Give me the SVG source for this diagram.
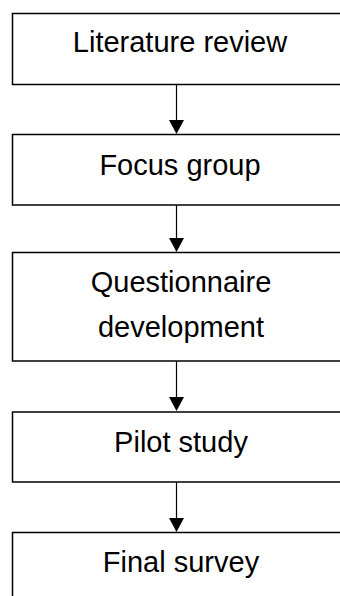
<svg xmlns="http://www.w3.org/2000/svg" width="340" height="596" viewBox="0 0 340 596">
<style>
.box{fill:#fff;stroke:#000;stroke-width:1.5}
.lbl{font-family:"Liberation Sans",Arial,sans-serif;font-size:29px;fill:#000;text-anchor:middle}
.con{stroke:#000;stroke-width:1.2;fill:none}
.head{fill:#000}
</style>
<rect width="340" height="596" fill="#fff"/>
<g id="connectors">
<line class="con" x1="176.5" y1="85" x2="176.5" y2="121"/>
<polygon class="head" points="169,120 184,120 176.5,134"/>
<line class="con" x1="176.5" y1="205" x2="176.5" y2="239"/>
<polygon class="head" points="169,238 184,238 176.5,252"/>
<line class="con" x1="176.5" y1="361" x2="176.5" y2="398"/>
<polygon class="head" points="169,397 184,397 176.5,411"/>
<line class="con" x1="176.5" y1="482" x2="176.5" y2="519"/>
<polygon class="head" points="169,518 184,518 176.5,532"/>
</g>
<g id="literature-review">
<rect class="box" x="12.5" y="13.5" width="340" height="71"/>
<text class="lbl" x="180" y="52">Literature review</text>
</g>
<g id="focus-group">
<rect class="box" x="12.5" y="134.5" width="340" height="70.5"/>
<text class="lbl" x="180" y="175">Focus group</text>
</g>
<g id="questionnaire-development">
<rect class="box" x="12.5" y="252.5" width="340" height="108.5"/>
<text class="lbl" x="181" y="292">Questionnaire</text>
<text class="lbl" x="181" y="337">development</text>
</g>
<g id="pilot-study">
<rect class="box" x="12.5" y="412" width="340" height="70"/>
<text class="lbl" x="181" y="452">Pilot study</text>
</g>
<g id="final-survey">
<rect class="box" x="12.5" y="532.5" width="340" height="80"/>
<text class="lbl" x="181" y="572">Final survey</text>
</g>
</svg>
